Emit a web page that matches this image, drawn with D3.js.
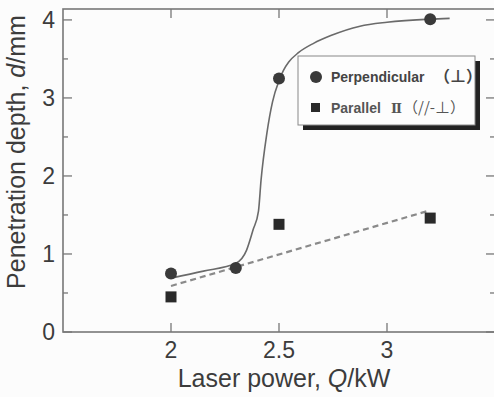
<!DOCTYPE html>
<html>
<head>
<meta charset="utf-8">
<script src="https://cdn.jsdelivr.net/npm/d3@7"></script>
<style>
  html, body { margin: 0; padding: 0; background: #fcfcfc; }
  svg { display: block; }
</style>
</head>
<body>
<div id="chart"></div>
<script>
// measured points
const perpX = [2.0, 2.3, 2.5, 3.2];
const perpY = [0.75, 0.82, 3.25, 4.01];
const paraX = [2.0, 2.5, 3.2];
const paraY = [0.45, 1.38, 1.46];

// fitted curve through perpendicular data
const fitX = [2.0, 2.15, 2.3, 2.35, 2.38, 2.405, 2.417, 2.444, 2.47, 2.5, 2.52, 2.545, 2.59, 2.66, 2.74, 2.875, 3.0, 3.2, 3.29];
const fitY = [0.69, 0.78, 0.88, 1.05, 1.31, 1.55, 1.95, 2.55, 2.95, 3.22, 3.35, 3.46, 3.58, 3.7, 3.8, 3.92, 3.97, 4.01, 4.02];

// linear fit for parallel
const lineX = [2.0, 3.2];
const lineY = [0.59, 1.56];

const xTicks = [2, 2.5, 3];
const yTicks = [0, 1, 2, 3, 4];
const yMinor = [0.5, 1.5, 2.5, 3.5];

const W = 494, H = 397;
const margin = { top: 9, right: -1, bottom: 65, left: 63 };
const width = W - margin.left - margin.right,
  height = H - margin.top - margin.bottom;

const svg = d3.select("#chart").append("svg")
  .attr("width", W).attr("height", H);
const g = svg.append("g")
  .attr("transform", "translate(" + margin.left + "," + margin.top + ")");

const x = d3.scaleLinear().domain([1.5, 3.5]).range([0, width]);
const y = d3.scaleLinear().domain([0, 4.14]).range([height, 0]);

const frameColor = "#777";
const textColor = "#3c3c3c";
const font = "'Liberation Sans', Arial, sans-serif";
const cjk = "'Noto Sans CJK SC', sans-serif";

// frame
g.append("rect")
  .attr("x", 0).attr("y", 0)
  .attr("width", width).attr("height", height)
  .attr("fill", "none")
  .attr("stroke", frameColor)
  .attr("stroke-width", 1.6);

// inward ticks on all four sides
const tickG = g.append("g").attr("stroke", frameColor).attr("stroke-width", 1.3);
xTicks.forEach(t => {
  tickG.append("line").attr("x1", x(t)).attr("x2", x(t)).attr("y1", height).attr("y2", height - 9);
  tickG.append("line").attr("x1", x(t)).attr("x2", x(t)).attr("y1", 0).attr("y2", 9);
});
yTicks.forEach(t => {
  tickG.append("line").attr("x1", 0).attr("x2", 9).attr("y1", y(t)).attr("y2", y(t));
  tickG.append("line").attr("x1", width).attr("x2", width - 9).attr("y1", y(t)).attr("y2", y(t));
});
yMinor.forEach(t => {
  tickG.append("line").attr("x1", 0).attr("x2", 5).attr("y1", y(t)).attr("y2", y(t));
  tickG.append("line").attr("x1", width).attr("x2", width - 5).attr("y1", y(t)).attr("y2", y(t));
});

// tick labels
g.selectAll(".xlab").data(xTicks).enter().append("text")
  .attr("x", d => x(d)).attr("y", height + 26)
  .attr("text-anchor", "middle")
  .attr("font-family", font).attr("font-size", "23px").attr("fill", textColor)
  .text(d => d);
g.selectAll(".ylab").data(yTicks).enter().append("text")
  .attr("x", -8).attr("y", d => y(d) + 8)
  .attr("text-anchor", "end")
  .attr("font-family", font).attr("font-size", "23px").attr("fill", textColor)
  .text(d => d);

// axis titles
const xt = svg.append("text")
  .attr("x", 284).attr("y", 387)
  .attr("text-anchor", "middle")
  .attr("font-family", font).attr("font-size", "25px").attr("fill", textColor);
xt.append("tspan").text("Laser power, ");
xt.append("tspan").attr("font-style", "italic").text("Q");
xt.append("tspan").text("/kW");

const yt = svg.append("text")
  .attr("transform", "translate(25,152) rotate(-90)")
  .attr("text-anchor", "middle")
  .attr("font-family", font).attr("font-size", "25px").attr("fill", textColor);
yt.append("tspan").text("Penetration depth, ");
yt.append("tspan").attr("font-style", "italic").text("d");
yt.append("tspan").text("/mm");

// fitted curves
const fit = fitX.map((v, i) => [v, fitY[i]]);
g.append("path")
  .datum(fit)
  .attr("fill", "none")
  .attr("stroke", "#6a6a6a")
  .attr("stroke-width", 1.6)
  .attr("d", d3.line().x(d => x(d[0])).y(d => y(d[1])).curve(d3.curveMonotoneX));

const lin = lineX.map((v, i) => [v, lineY[i]]);
g.append("path")
  .datum(lin)
  .attr("fill", "none")
  .attr("stroke", "#8a8a8a")
  .attr("stroke-width", 2.2)
  .attr("stroke-dasharray", "6,4")
  .attr("d", d3.line().x(d => x(d[0])).y(d => y(d[1])));

// markers
g.selectAll(".perp").data(perpX.map((v, i) => [v, perpY[i]])).enter().append("circle")
  .attr("cx", d => x(d[0])).attr("cy", d => y(d[1]))
  .attr("r", 6)
  .attr("fill", "#3a3a3a");

const sq = 11;
g.selectAll(".para").data(paraX.map((v, i) => [v, paraY[i]])).enter().append("rect")
  .attr("x", d => x(d[0]) - sq / 2).attr("y", d => y(d[1]) - sq / 2)
  .attr("width", sq).attr("height", sq)
  .attr("fill", "#2a2a2a");

// legend
const lg = svg.append("g").attr("transform", "translate(298,56)");
lg.append("rect").attr("x", 5).attr("y", 5).attr("width", 177).attr("height", 69).attr("fill", "#222");
lg.append("rect").attr("x", 0).attr("y", 0).attr("width", 177).attr("height", 69)
  .attr("fill", "#fdfdfd").attr("stroke", "#888").attr("stroke-width", 1);

lg.append("circle").attr("cx", 18).attr("cy", 21).attr("r", 6).attr("fill", "#3a3a3a");
const l1 = lg.append("text").attr("x", 33).attr("y", 26)
  .attr("font-family", font).attr("font-size", "14px").attr("font-weight", "bold").attr("fill", "#444");
l1.append("tspan").text("Perpendicular");
l1.append("tspan").attr("x", 136).attr("font-family", cjk).attr("font-size", "16px").text("（⊥）");

lg.append("rect").attr("x", 13).attr("y", 47).attr("width", 9).attr("height", 9).attr("fill", "#2a2a2a");
const l2 = lg.append("text").attr("x", 33).attr("y", 57)
  .attr("font-family", font).attr("font-size", "14px").attr("font-weight", "bold").attr("fill", "#555");
l2.append("tspan").text("Parallel");
l2.append("tspan").attr("x", 93).attr("font-family", "'DejaVu Serif', serif").attr("font-size", "13px").text("Ⅱ");
l2.append("tspan").attr("x", 105).attr("font-family", cjk).attr("font-size", "15px").attr("font-weight", "normal").text("（//-⊥）");
</script>
</body>
</html>
